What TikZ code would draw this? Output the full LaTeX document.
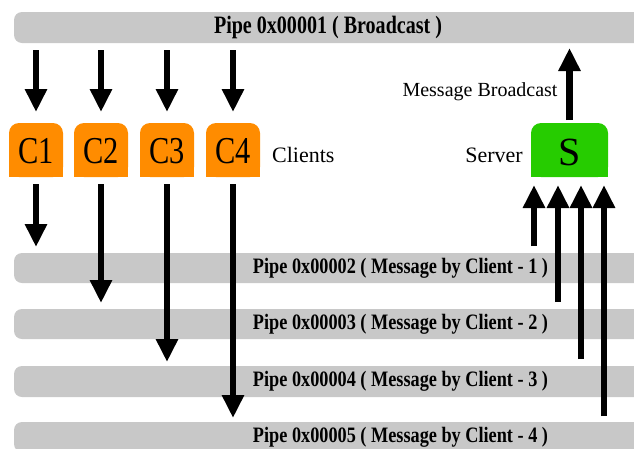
\documentclass[tikz,border=0pt]{standalone}
\usepackage{graphicx}
\usepackage{fontspec}
\setmainfont{Liberation Serif}
\usetikzlibrary{arrows.meta}

\definecolor{pipegray}{RGB}{200,200,200}
\definecolor{clientorange}{RGB}{255,140,0}
\definecolor{servergreen}{RGB}{38,204,0}

% bold pipe caption squeezed to a given width (pt), at a given size (pt)
\newcommand\pipelabel[3]{\resizebox{#1pt}{\height}{\fontsize{#2}{#2}\selectfont\bfseries #3}}

\begin{document}
\begin{tikzpicture}[x=1pt,y=-1pt,
  pipe/.style={fill=pipegray, rounded corners=8pt, anchor=north west,
    minimum width=660pt, inner sep=0pt, outer sep=0pt},
  boxbase/.style={rounded corners=10pt, anchor=north west,
    minimum height=54pt, inner sep=0pt, outer sep=0pt},
  clientbox/.style={boxbase, fill=clientorange, minimum width=54pt},
  serverbox/.style={boxbase, fill=servergreen, minimum width=77pt},
  boxtext/.style={font=\fontsize{38}{38}\selectfont, inner sep=0pt},
  sidetext/.style={font=\fontsize{22}{22}\selectfont, inner sep=0pt},
  flow/.style={line width=6.5pt, -{Triangle[width=21pt,length=23pt]}},
]
\useasboundingbox (0,0) rectangle (634,448);
\clip (0,0) rectangle (634,448);

% pipes
\node[pipe, minimum height=31pt] (p1) at (14,12) {};
\node[pipe, minimum height=30pt] (p2) at (14,253) {};
\node[pipe, minimum height=30pt] (p3) at (14,309) {};
\node[pipe, minimum height=31pt] (p4) at (14,366) {};
\node[pipe, minimum height=30pt] (p5) at (14,422) {};

\node[inner sep=0pt] (t1) at (328,27.5) {\pipelabel{228}{25}{Pipe 0x00001 ( Broadcast )}};
\node[inner sep=0pt] (t2) at (400.5,268) {\pipelabel{295}{22}{Pipe 0x00002 ( Message by Client - 1 )}};
\node[inner sep=0pt] (t3) at (400.5,324) {\pipelabel{295}{22}{Pipe 0x00003 ( Message by Client - 2 )}};
\node[inner sep=0pt] (t4) at (400.5,381) {\pipelabel{295}{22}{Pipe 0x00004 ( Message by Client - 3 )}};
\node[inner sep=0pt] (t5) at (400.5,437) {\pipelabel{295}{22}{Pipe 0x00005 ( Message by Client - 4 )}};

% client boxes: rounded on top, square at the bottom
\node[clientbox] (c1) at (9,123) {};
\node[clientbox] (c2) at (74,123) {};
\node[clientbox] (c3) at (140,123) {};
\node[clientbox] (c4) at (206,123) {};
\foreach \c in {c1,c2,c3,c4}
  \fill[clientorange] (\c.south west) rectangle (\c.east);
\node[boxtext] (l1) at ([yshift=-1pt]c1.center) {\scalebox{0.8}[1]{C1}};
\node[boxtext] (l2) at ([yshift=-1pt]c2.center) {\scalebox{0.8}[1]{C2}};
\node[boxtext] (l3) at ([yshift=-1pt]c3.center) {\scalebox{0.8}[1]{C3}};
\node[boxtext] (l4) at ([yshift=-1pt]c4.center) {\scalebox{0.8}[1]{C4}};
\node[sidetext, anchor=west] (clients) at (272,155) {Clients};

% server box
\node[serverbox] (s) at (531,123) {};
\fill[servergreen] (s.south west) rectangle (s.east);
\node[boxtext, font=\fontsize{40}{40}\selectfont] (sl) at ([yshift=-2pt]s.center) {S};
\node[sidetext, anchor=east] (server) at (523,155) {Server};
\node[font=\fontsize{20}{20}\selectfont, inner sep=0pt] (mb) at (480,92) {Message Broadcast};

% broadcast pipe to every client
\foreach \c in {c1,c2,c3,c4}
  \draw[flow, shorten <=7pt, shorten >=11pt] (p1.south -| \c) -- (\c.north);

% each client writes into its own pipe
\draw[flow, shorten <=7pt, shorten >=6pt] (c1.south) -- (c1.south |- p2.north);
\draw[flow, shorten <=7pt, shorten >=6pt] (c2.south) -- (c2.south |- p3.north);
\draw[flow, shorten <=7pt, shorten >=4pt] (c3.south) -- (c3.south |- p4.north);
\draw[flow, shorten <=7pt, shorten >=4pt] (c4.south) -- (c4.south |- p5.north);

% server reads every client pipe
\coordinate (in1) at ([xshift=3pt]s.south west);
\coordinate (in2) at ([xshift=27pt]s.south west);
\coordinate (in3) at ([xshift=50pt]s.south west);
\coordinate (in4) at ([xshift=73pt]s.south west);
\draw[flow, shorten <=7pt, shorten >=8pt] (in1 |- p2.north) -- (in1);
\draw[flow, shorten <=7pt, shorten >=8pt] (in2 |- p3.north) -- (in2);
\draw[flow, shorten <=7pt, shorten >=8pt] (in3 |- p4.north) -- (in3);
\draw[flow, shorten <=6pt, shorten >=8pt] (in4 |- p5.north) -- (in4);

% server broadcasts back
\draw[flow, shorten <=3pt, shorten >=5pt] (s.north) -- (s.north |- p1.south);
\end{tikzpicture}
\end{document}
